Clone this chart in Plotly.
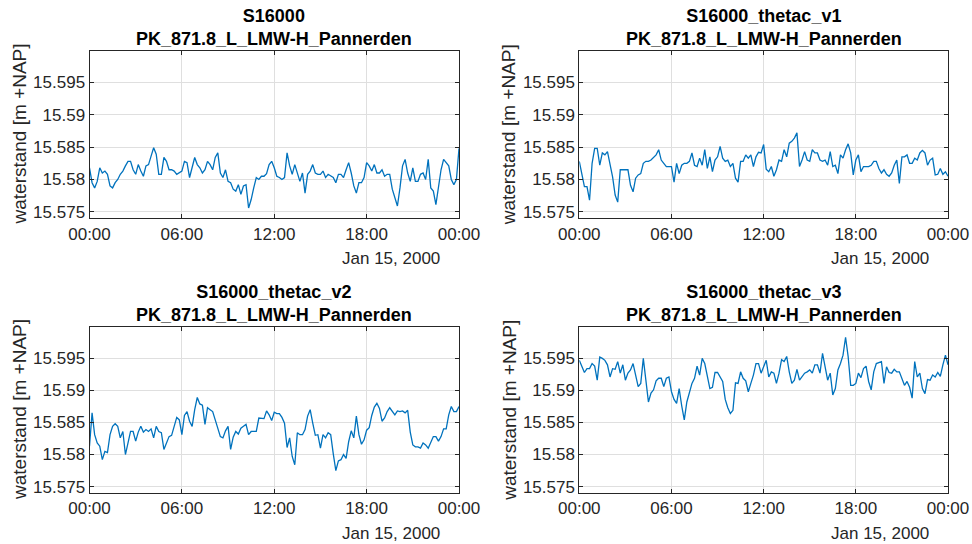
import pandas as pd
import plotly.graph_objects as go

# Water level at PK_871.8_L_LMW-H_Pannerden, 10-minute values on 15 Jan 2000
times = pd.date_range("2000-01-15 00:00", "2000-01-16 00:00", freq="10min")

s16000 = [
    15.5818, 15.5795, 15.5787, 15.5797, 15.5818, 15.5810, 15.5813, 15.5808, 15.5790, 15.5787,
    15.5795, 15.5800, 15.5808, 15.5813, 15.5821, 15.5828, 15.5828, 15.5815, 15.5808, 15.5823,
    15.5813, 15.5805, 15.5821, 15.5823, 15.5836, 15.5849, 15.5839, 15.5808, 15.5808, 15.5834,
    15.5828, 15.5815, 15.5815, 15.5813, 15.5808, 15.5810, 15.5813, 15.5828, 15.5826, 15.5803,
    15.5821, 15.5834, 15.5823, 15.5818, 15.5810, 15.5815, 15.5828, 15.5823, 15.5815, 15.5834,
    15.5841, 15.5810, 15.5803, 15.5815, 15.5797, 15.5795, 15.5785, 15.5782, 15.5792, 15.5777,
    15.5790, 15.5792, 15.5756, 15.5769, 15.5787, 15.5803, 15.5800, 15.5805, 15.5805, 15.5809,
    15.5823, 15.5828, 15.5818, 15.5805, 15.5803, 15.5800, 15.5803, 15.5841, 15.5821, 15.5808,
    15.5823, 15.5808, 15.5797, 15.5810, 15.5779, 15.5808, 15.5813, 15.5823, 15.5810, 15.5808,
    15.5808, 15.5813, 15.5803, 15.5808, 15.5805, 15.5803, 15.5795, 15.5808, 15.5808, 15.5803,
    15.5815, 15.5826, 15.5810, 15.5790, 15.5779, 15.5795, 15.5795, 15.5803, 15.5826, 15.5821,
    15.5813, 15.5823, 15.5810, 15.5810, 15.5815, 15.5805, 15.5808, 15.5808, 15.5785, 15.5772,
    15.5759, 15.5787, 15.5821, 15.5831, 15.5810, 15.5797, 15.5818, 15.5797, 15.5797, 15.5808,
    15.5810, 15.5800, 15.5831, 15.5787, 15.5782, 15.5761, 15.5790, 15.5815, 15.5831, 15.5826,
    15.5821, 15.5800, 15.5792, 15.5800, 15.5848,
]

s16000_thetac_v1 = [
    15.5828, 15.5809, 15.5789, 15.5789, 15.5768, 15.5825, 15.5848, 15.5848, 15.5822, 15.5841,
    15.5838, 15.5843, 15.5825, 15.5804, 15.5776, 15.5765, 15.5815, 15.5815, 15.5815, 15.5815,
    15.5791, 15.5781, 15.5802, 15.5807, 15.5809, 15.5825, 15.5828, 15.5828, 15.5830, 15.5834,
    15.5838, 15.5846, 15.5830, 15.5825, 15.5820, 15.5820, 15.5820, 15.5796, 15.5825, 15.5809,
    15.5822, 15.5825, 15.5825, 15.5828, 15.5841, 15.5822, 15.5820, 15.5833, 15.5822, 15.5846,
    15.5817, 15.5835, 15.5812, 15.5830, 15.5835, 15.5851, 15.5833, 15.5828, 15.5830, 15.5820,
    15.5825, 15.5802, 15.5796, 15.5828, 15.5828, 15.5838, 15.5833, 15.5838, 15.5820, 15.5835,
    15.5842, 15.5841, 15.5854, 15.5816, 15.5812, 15.5820, 15.5805, 15.5815, 15.5830, 15.5828,
    15.5846, 15.5835, 15.5856, 15.5859, 15.5864, 15.5872, 15.5820, 15.5830, 15.5843, 15.5830,
    15.5828, 15.5846, 15.5841, 15.5841, 15.5830, 15.5828, 15.5830, 15.5822, 15.5843, 15.5820,
    15.5822, 15.5809, 15.5838, 15.5833, 15.5846, 15.5855, 15.5841, 15.5807, 15.5830, 15.5838,
    15.5812, 15.5820, 15.5820, 15.5820, 15.5822, 15.5828, 15.5828, 15.5817, 15.5810, 15.5815,
    15.5808, 15.5805, 15.5810, 15.5822, 15.5830, 15.5794, 15.5835, 15.5835, 15.5838, 15.5825,
    15.5825, 15.5833, 15.5830, 15.5841, 15.5845, 15.5841, 15.5822, 15.5830, 15.5833, 15.5807,
    15.5808, 15.5817, 15.5808, 15.5812, 15.5805,
]

s16000_thetac_v2 = [
    15.5813, 15.5865, 15.5831, 15.5818, 15.5813, 15.5792, 15.5805, 15.5803, 15.5831, 15.5844,
    15.5848, 15.5844, 15.5826, 15.5836, 15.5800, 15.5818, 15.5836, 15.5836, 15.5821, 15.5835,
    15.5844, 15.5835, 15.5839, 15.5836, 15.5840, 15.5826, 15.5844, 15.5836, 15.5834, 15.5808,
    15.5817, 15.5828, 15.5830, 15.5844, 15.5858, 15.5854, 15.5831, 15.5861, 15.5867, 15.5852,
    15.5844, 15.5870, 15.5889, 15.5879, 15.5877, 15.5847, 15.5873, 15.5870, 15.5867, 15.5854,
    15.5841, 15.5828, 15.5826, 15.5837, 15.5844, 15.5808, 15.5827, 15.5836, 15.5832, 15.5841,
    15.5844, 15.5847, 15.5831, 15.5836, 15.5836, 15.5836, 15.5857, 15.5857, 15.5856, 15.5868,
    15.5862, 15.5853, 15.5866, 15.5864, 15.5864, 15.5858, 15.5849, 15.5811, 15.5826, 15.5797,
    15.5784, 15.5834, 15.5831, 15.5831, 15.5839, 15.5860, 15.5870, 15.5849, 15.5830, 15.5831,
    15.5810, 15.5831, 15.5826, 15.5834, 15.5831, 15.5801, 15.5775, 15.5790, 15.5792, 15.5800,
    15.5794, 15.5820, 15.5837, 15.5826, 15.5860, 15.5831, 15.5816, 15.5823, 15.5838, 15.5842,
    15.5861, 15.5874, 15.5880, 15.5872, 15.5852, 15.5857, 15.5867, 15.5873, 15.5867, 15.5862,
    15.5868, 15.5867, 15.5868, 15.5865, 15.5869, 15.5835, 15.5815, 15.5812, 15.5812, 15.5810,
    15.5818, 15.5815, 15.5810, 15.5820, 15.5828, 15.5828, 15.5821, 15.5828, 15.5840, 15.5840,
    15.5862, 15.5875, 15.5867, 15.5867, 15.5875,
]

s16000_thetac_v3 = [
    15.5947, 15.5937, 15.5928, 15.5934, 15.5934, 15.5942, 15.5938, 15.5916, 15.5952, 15.5950,
    15.5947, 15.5940, 15.5921, 15.5934, 15.5933, 15.5945, 15.5927, 15.5940, 15.5916, 15.5927,
    15.5932, 15.5942, 15.5921, 15.5906, 15.5911, 15.5950, 15.5916, 15.5882, 15.5896, 15.5901,
    15.5915, 15.5919, 15.5919, 15.5906, 15.5919, 15.5921, 15.5898, 15.5886, 15.5880, 15.5903,
    15.5876, 15.5854, 15.5882, 15.5895, 15.5911, 15.5919, 15.5938, 15.5924, 15.5950, 15.5942,
    15.5921, 15.5903, 15.5905, 15.5928, 15.5928, 15.5920, 15.5914, 15.5886, 15.5873, 15.5864,
    15.5869, 15.5912, 15.5911, 15.5929, 15.5919, 15.5915, 15.5898, 15.5911, 15.5924, 15.5942,
    15.5942, 15.5927, 15.5937, 15.5947, 15.5921, 15.5929, 15.5927, 15.5911, 15.5927, 15.5948,
    15.5945, 15.5953, 15.5929, 15.5911, 15.5916, 15.5933, 15.5916, 15.5922, 15.5927, 15.5929,
    15.5932, 15.5927, 15.5940, 15.5940, 15.5927, 15.5958, 15.5934, 15.5916, 15.5927, 15.5893,
    15.5903, 15.5932, 15.5942, 15.5955, 15.5983, 15.5953, 15.5908, 15.5908, 15.5911, 15.5927,
    15.5920, 15.5934, 15.5938, 15.5914, 15.5901, 15.5929, 15.5942, 15.5943, 15.5945, 15.5911,
    15.5937, 15.5928, 15.5927, 15.5933, 15.5929, 15.5929, 15.5917, 15.5908, 15.5914, 15.5905,
    15.5888, 15.5945, 15.5921, 15.5927, 15.5903, 15.5895, 15.5917, 15.5916, 15.5924, 15.5921,
    15.5928, 15.5922, 15.5940, 15.5955, 15.5940,
]

run_names = ["S16000", "S16000_thetac_v1", "S16000_thetac_v2", "S16000_thetac_v3"]
series = [s16000, s16000_thetac_v1, s16000_thetac_v2, s16000_thetac_v3]
station = "PK_871.8_L_LMW-H_Pannerden"

y_ticks = [15.575, 15.58, 15.585, 15.59, 15.595]
y_ticktext = ["15.575", "15.58", "15.585", "15.59", "15.595"]
y_range = [15.5740, 15.5999]
x_ticks = pd.date_range("2000-01-15 00:00", "2000-01-16 00:00", freq="6h")
x_range = ["2000-01-15 00:00", "2000-01-16 00:00"]
date_label = "Jan 15, 2000"
y_label = "waterstand [m +NAP]"

W, H = 972, 544
FONT = "Liberation Sans, Arial, Helvetica, sans-serif"
AXC = "#262626"
GRIDC = "#dfdfdf"
LINEC = "#0072BD"

# panel boxes in pixels: (left, right, top, bottom)
boxes = [
    (89.5, 459.0, 50.7, 218.3),
    (579.3, 948.0, 50.7, 218.3),
    (89.5, 459.0, 327.0, 493.0),
    (579.3, 948.0, 327.0, 493.0),
]

fig = go.Figure()
layout = dict(
    width=W, height=H, margin=dict(l=0, r=0, t=0, b=0, autoexpand=False),
    paper_bgcolor="white", plot_bgcolor="white", showlegend=False,
    font=dict(family=FONT, color=AXC, size=17),
)
annotations = []

for k, (name, vals, (x0, x1, y0, y1)) in enumerate(zip(run_names, series, boxes)):
    sfx = "" if k == 0 else str(k + 1)
    fig.add_trace(go.Scatter(
        x=times, y=vals, mode="lines",
        line=dict(color=LINEC, width=1.3),
        xaxis="x" + sfx, yaxis="y" + sfx, hoverinfo="skip",
    ))
    common = dict(
        showline=True, linecolor=AXC, linewidth=1, mirror="ticks",
        ticks="inside", ticklen=4, tickcolor=AXC, tickwidth=1,
        showgrid=True, gridcolor=GRIDC, gridwidth=1, zeroline=False,
        automargin=False,
        tickfont=dict(family=FONT, size=17, color=AXC),
    )
    layout["xaxis" + sfx] = dict(
        common, type="date", range=x_range, tickvals=list(x_ticks),
        tickformat="%H:%M", domain=[x0 / W, x1 / W],
        anchor="y" + sfx, ticklabelstandoff=0,
    )
    layout["yaxis" + sfx] = dict(
        common, range=y_range, tickvals=y_ticks, ticktext=y_ticktext,
        domain=[1 - y1 / H, 1 - y0 / H], anchor="x" + sfx,
    )
    cx = (x0 + x1) / 2
    annotations.append(dict(
        text=f"<b>{name}</b><br><b>{station}</b>",
        x=cx / W, y=1 - y0 / H, xref="paper", yref="paper",
        xanchor="center", yanchor="bottom", yshift=0, showarrow=False,
        font=dict(family=FONT, size=18, color="black"), align="center",
    ))
    annotations.append(dict(
        text=date_label, x=(x1 - 17) / W, y=1 - (y1 + 40) / H,
        xref="paper", yref="paper", xanchor="right", yanchor="middle",
        showarrow=False, font=dict(family=FONT, size=17, color=AXC),
    ))
    annotations.append(dict(
        text=y_label, x=(x0 - 70.5) / W, y=1 - (y0 + y1) / 2 / H,
        xref="paper", yref="paper", xanchor="center", yanchor="middle",
        textangle=-90, showarrow=False,
        font=dict(family=FONT, size=19, color=AXC),
    ))

layout["annotations"] = annotations
fig.update_layout(**layout)
fig.write_html("out.html")
